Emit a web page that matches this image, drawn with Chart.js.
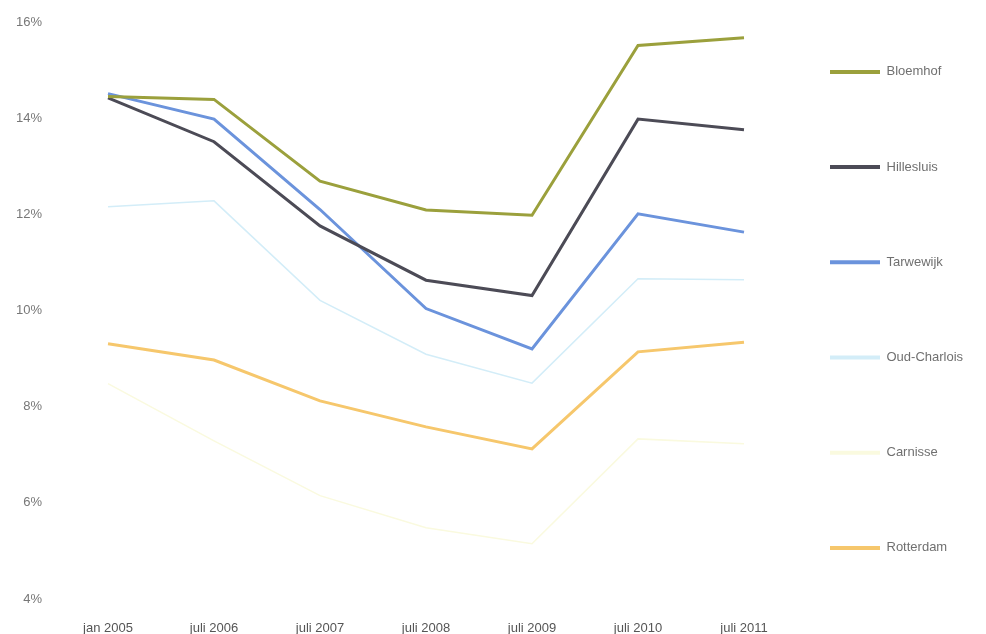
<!DOCTYPE html>
<html>
<head>
<meta charset="utf-8">
<script src="https://cdn.jsdelivr.net/npm/chart.js@4.4.1/dist/chart.umd.min.js"></script>
<style>
  html, body { margin: 0; padding: 0; background: #fff; }
  #wrap { width: 986px; height: 634px; }
</style>
</head>
<body>
<div id="wrap"><canvas id="myChart"></canvas></div>
<script>
// x-as labels
var periods = ['jan 2005', 'juli 2006', 'juli 2007', 'juli 2008', 'juli 2009', 'juli 2010', 'juli 2011'];

// percentages per wijk
var bloemhof    = [14.45, 14.39, 12.69, 12.09, 11.98, 15.51, 15.67];
var hillesluis  = [14.42, 13.51, 11.76, 10.63, 10.31, 13.98, 13.76];
var tarwewijk   = [14.51, 13.98, 12.10, 10.04, 9.20, 12.01, 11.63];
var oudCharlois = [12.16, 12.28, 10.21, 9.09, 8.49, 10.66, 10.64];
var carnisse    = [8.48, 7.29, 6.15, 5.48, 5.15, 7.33, 7.23];
var rotterdam   = [9.31, 8.97, 8.12, 7.58, 7.12, 9.14, 9.34];

var yTicks = [4, 6, 8, 10, 12, 14, 16];

function line(label, data, color, width) {
  return {
    label: label,
    data: data,
    borderColor: color,
    backgroundColor: color,
    borderWidth: width,
    pointRadius: 0,
    pointHoverRadius: 0,
    tension: 0,
    fill: false
  };
}

var ctx = document.getElementById('myChart').getContext('2d');
var chart = new Chart(ctx, {
  type: 'line',
  data: {
    labels: periods,
    datasets: [
      line('Bloemhof', bloemhof, '#9ba03c', 3),
      line('Hillesluis', hillesluis, '#4c4b56', 3),
      line('Tarwewijk', tarwewijk, '#6b93dc', 3),
      line('Oud-Charlois', oudCharlois, '#d3edf8', 1.5),
      line('Carnisse', carnisse, '#fafadf', 1.5),
      line('Rotterdam', rotterdam, '#f6c76c', 3)
    ]
  },
  options: {
    responsive: true,
    maintainAspectRatio: false,
    animation: false,
    layout: {
      padding: { top: 22, left: 3, right: 19, bottom: -13 }
    },
    plugins: {
      tooltip: { enabled: false },
      legend: {
        position: 'right',
        align: 'center',
        maxWidth: 170,
        labels: {
          boxWidth: 50,
          boxHeight: 4,
          padding: 33,
          color: '#707070',
          font: { family: '"Liberation Sans", Arial, sans-serif', size: 13, lineHeight: '62.2px' },
          generateLabels: function(chart) {
            //array text so every item gets the tall line height
            return chart.data.datasets.map(function(ds, i) {
              return {
                text: [ds.label],
                fillStyle: ds.borderColor,
                strokeStyle: ds.borderColor,
                lineWidth: 0,
                fontColor: '#707070',
                hidden: false,
                datasetIndex: i
              };
            });
          }
        }
      }
    },
    scales: {
      x: {
        offset: true,
        grid: { display: false, drawTicks: false },
        border: { display: false },
        ticks: {
          padding: 22,
          maxRotation: 0,
          autoSkip: false,
          color: '#555',
          font: { family: '"Liberation Sans", Arial, sans-serif', size: 13 }
        },
        afterFit: function(scale) { scale.height = 48; }
      },
      y: {
        min: 4,
        max: 16,
        grid: { display: false, drawTicks: false },
        border: { display: false },
        afterBuildTicks: function(scale) {
          scale.ticks = yTicks.map(function(v) { return { value: v }; });
        },
        ticks: {
          padding: 13,
          color: '#777',
          font: { family: '"Liberation Sans", Arial, sans-serif', size: 13 },
          callback: function(v) { return v + '%'; }
        }
      }
    }
  }
});
</script>
</body>
</html>
